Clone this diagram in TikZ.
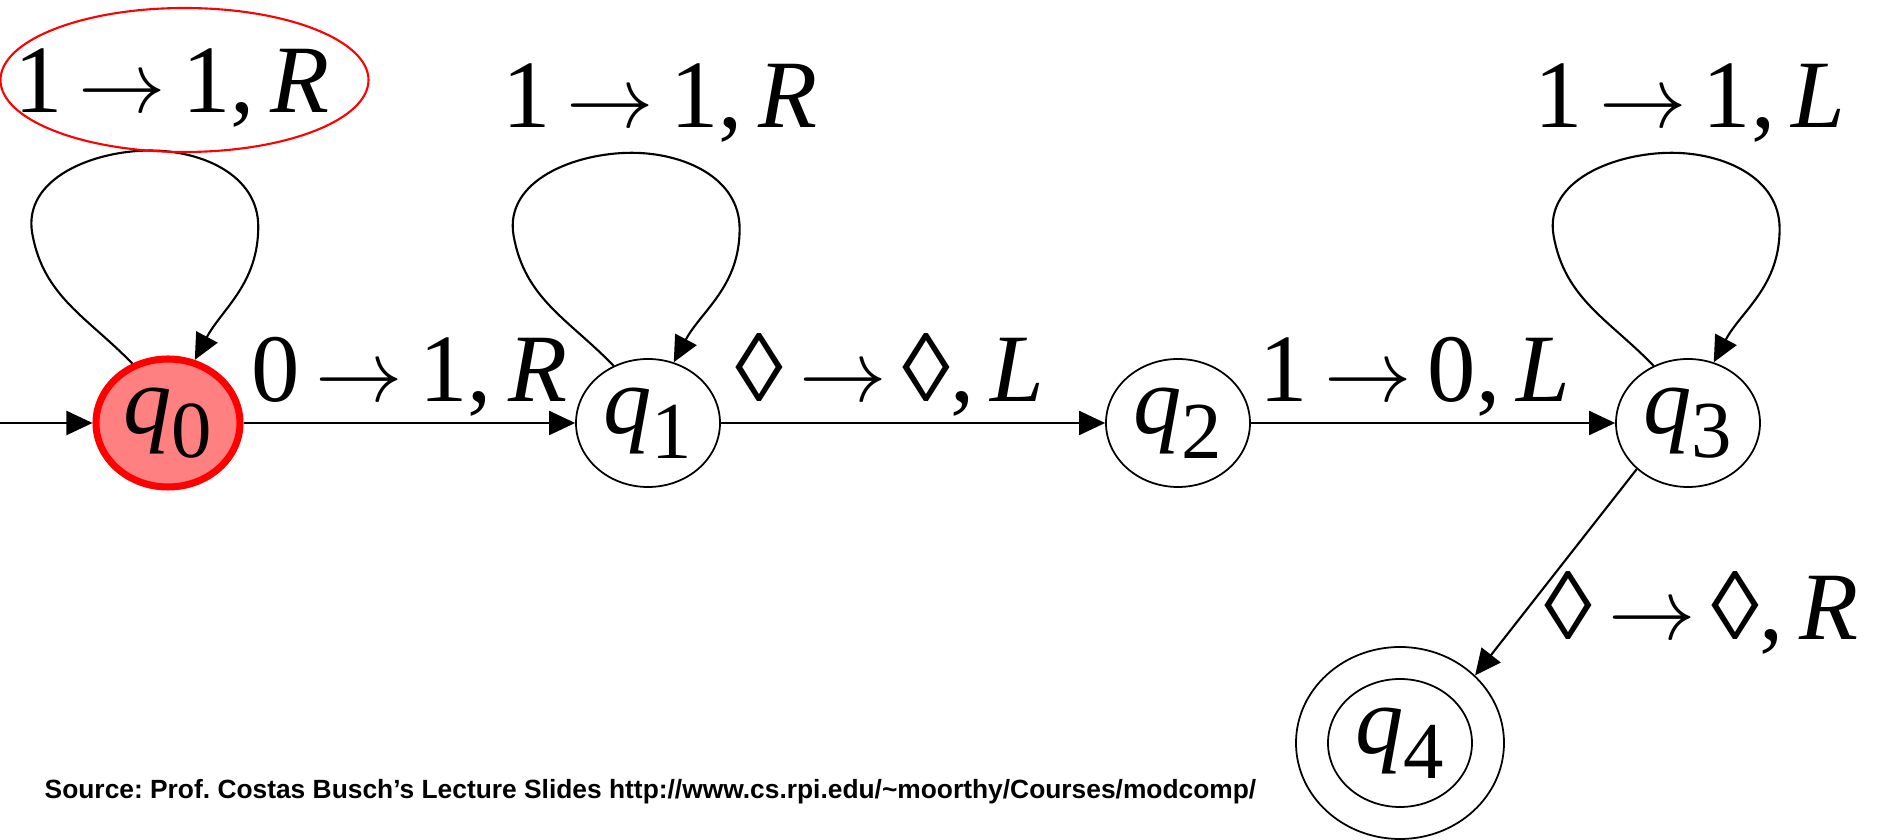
\documentclass[tikz,border=0pt]{standalone}
\usepackage{fontspec}
\setmainfont{Liberation Serif}
\newfontfamily\srcfont{Liberation Sans}
\usetikzlibrary{arrows.meta,shapes.geometric,positioning}
\definecolor{hotred}{HTML}{FF0000}
\definecolor{pinkfill}{HTML}{FF8080}
\tikzset{
  every picture/.style={line join=round, >={Triangle[length=0.26cm,width=0.24cm]}},
  state/.style={ellipse, draw, line width=0.5pt, minimum width=1.44cm, minimum height=1.28cm, inner sep=0pt},
  current/.style={state, draw=hotred, fill=pinkfill, line width=2pt},
  trans/.style={->, line width=0.6pt},
  tlabel/.style={font=\fontsize{27.5}{30}\selectfont, inner sep=0pt},
}
\newcommand{\goesto}{\,$\rightarrow$\,}
\newcommand{\st}[1]{\fontsize{27.5}{30}\selectfont\textit{q}\raisebox{-7pt}{\fontsize{23}{25}\selectfont #1}}

\begin{document}
\begin{tikzpicture}
\useasboundingbox (0,0) rectangle (18.78,8.40);
% states
\node[current] (q0) at (1.68,4.17) {\st{0}};
\node[state] (q1) at (6.48,4.17) {\st{1}};
\node[state] (q2) at (11.78,4.17) {\st{2}};
\node[state] (q3) at (16.88,4.17) {\st{3}};
\node[state] (q4) at (14.00,0.97) {\st{4}};
\node[state, minimum width=2.08cm, minimum height=1.92cm] (q4o) at (q4) {};
\coordinate (start) at (0,4.17);
% transitions
\draw[trans] (start) -- (q0);
\draw[trans] (q0) -- node[tlabel, anchor=base, yshift=0.21cm] (e01) {0\goesto1,\,\textit{R}} (q1);
\draw[trans] (q1) -- node[tlabel, anchor=base, yshift=0.21cm, xshift=-0.23cm] (e12) {◊\goesto◊,\,\textit{L}} (q2);
\draw[trans] (q2) -- node[tlabel, anchor=base, yshift=0.21cm, xshift=-0.18cm] (e23) {1\goesto0,\,\textit{L}} (q3);
\draw[trans] (q3.222) -- node[tlabel, pos=0.826, anchor=base west, xshift=0.40cm] (e34) {◊\goesto◊,\,\textit{R}} (q4o.42);
% self loops
\draw[trans] (q0.121) to[out=134,in=-80] ++(-1.0,1.30) to[out=100,in=180] ++(1.18,0.83) to[out=0,in=90] ++(1.08,-0.76) to[out=-90,in=62] (q0.67);
\draw[trans] (q1.121) to[out=134,in=-80] ++(-1.0,1.30) to[out=100,in=180] ++(1.18,0.83) to[out=0,in=90] ++(1.08,-0.76) to[out=-90,in=62] (q1.67);
\draw[trans] (q3.121) to[out=134,in=-80] ++(-1.0,1.30) to[out=100,in=180] ++(1.18,0.83) to[out=0,in=90] ++(1.08,-0.76) to[out=-90,in=62] (q3.67);
\node[tlabel, anchor=base] (s0) at ([shift={(0.04,3.10)}]q0.center) {1\goesto1,\,\textit{R}};
\node[tlabel, anchor=base] (s1) at ([shift={(0.12,2.95)}]q1.center) {1\goesto1,\,\textit{R}};
\node[tlabel, anchor=base] (s3) at ([shift={(0.02,2.95)}]q3.center) {1\goesto1,\,\textit{L}};
\node[ellipse, draw=hotred, line width=0.6pt, minimum width=3.68cm, minimum height=1.44cm] (mark) at ([shift={(0.125,0.33)}]s0.base) {};
% source line
\node[anchor=base west, inner sep=0pt, font=\srcfont\bfseries\fontsize{7.5}{9}\selectfont\frenchspacing] (src) at (0.44,0.41) {Source: Prof. Costas Busch’s Lecture Slides http://www.cs.rpi.edu/\textasciitilde moorthy/Courses/modcomp/};
\end{tikzpicture}
\end{document}
